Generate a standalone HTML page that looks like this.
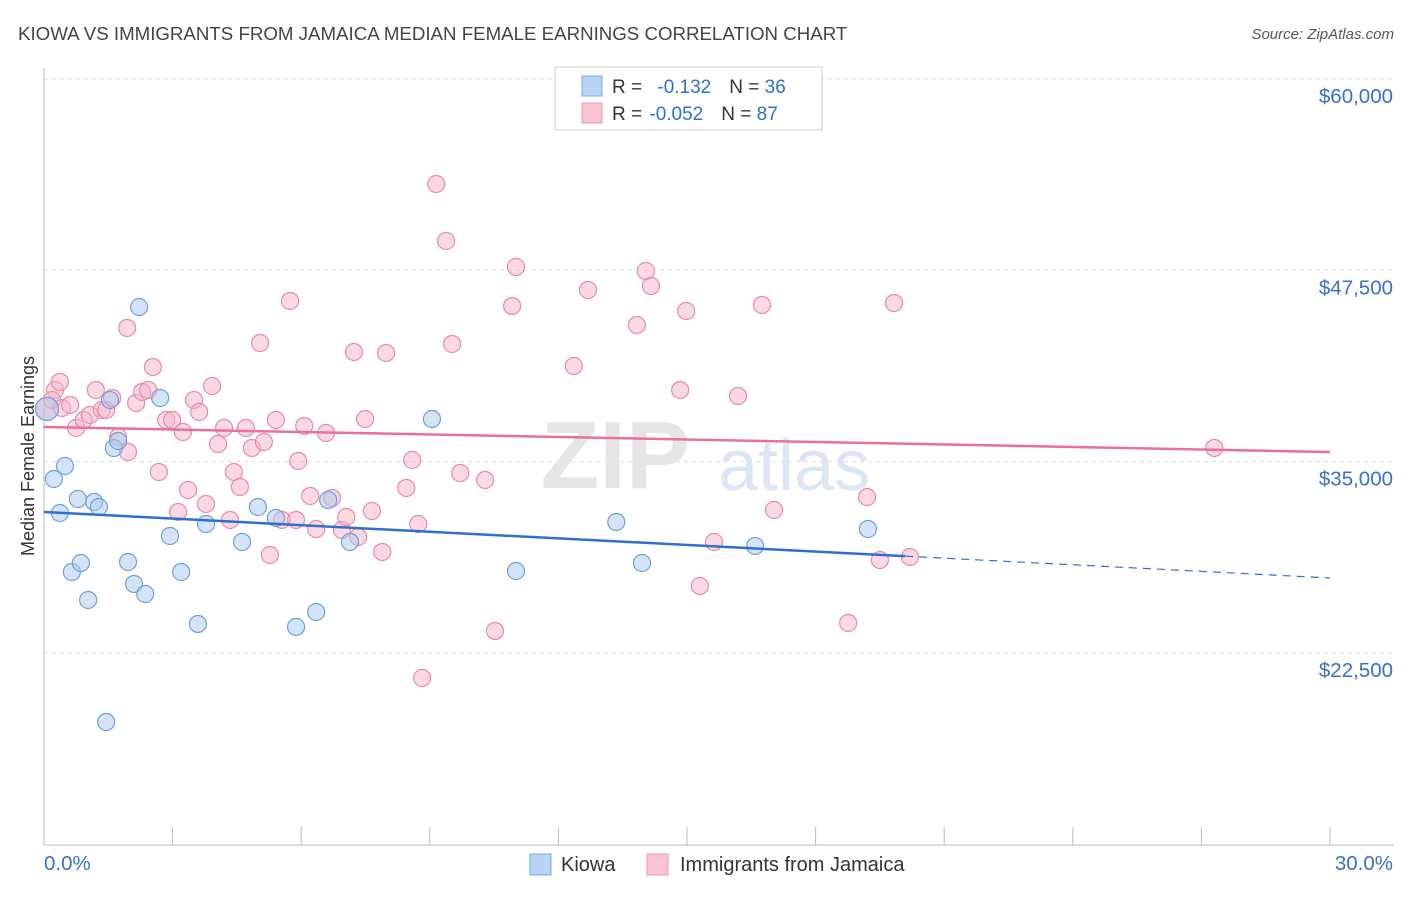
<!DOCTYPE html>
<html><head><meta charset="utf-8"><style>
body{margin:0;background:#fff;font-family:"Liberation Sans",sans-serif}
svg text{font-family:"Liberation Sans",sans-serif}
</style></head><body>
<svg id="chart" width="1406" height="892">
<text x="18" y="40" font-size="18.7" fill="#444">KIOWA VS IMMIGRANTS FROM JAMAICA MEDIAN FEMALE EARNINGS CORRELATION CHART</text>
<text x="1394" y="39" font-size="15" fill="#555" text-anchor="end" font-style="italic">Source: ZipAtlas.com</text>
<g id="grid"></g>
<text x="690" y="488" font-size="96" fill="#e6e6e6" font-family="Liberation Serif" text-anchor="end" font-weight="bold">ZIP</text>
<text x="718" y="490" font-size="72" fill="#dbe6f5">atlas</text>
<g id="axes"></g>
<g id="points"></g>
<g id="trends"></g>
<text transform="translate(34,456) rotate(-90)" font-size="18" fill="#333" text-anchor="middle">Median Female Earnings</text>
<g>
<rect x="555" y="67" width="267" height="63" fill="#fff" stroke="#ccc"/>
<rect x="582" y="76" width="20" height="20" fill="#b8d3f4" stroke="#7aa9e0"/>
<rect x="582" y="103" width="20" height="20" fill="#f9c3d4" stroke="#ec9ab6"/>
<text x="612" y="93" font-size="19" fill="#333">R = <tspan fill="#2f6fd0" dx="10">-0.132</tspan><tspan fill="#333" dx="18">N = </tspan><tspan fill="#2f6fd0">36</tspan></text>
<text x="612" y="120" font-size="19" fill="#333">R = <tspan fill="#2f6fd0" dx="2">-0.052</tspan><tspan fill="#333" dx="18">N = </tspan><tspan fill="#2f6fd0">87</tspan></text>
</g>
<g>
<rect x="530" y="854" width="21" height="21" fill="#b8d3f4" stroke="#7aa9e0"/>
<text x="561" y="871" font-size="20" fill="#333">Kiowa</text>
<rect x="647" y="854" width="21" height="21" fill="#f9c3d4" stroke="#ec9ab6"/>
<text x="680" y="871" font-size="20" fill="#333">Immigrants from Jamaica</text>
</g>
</svg>
<script>
const yTicks=[22500,35000,47500,60000];
const yTickLabels=["$22,500","$35,000","$47,500","$60,000"];
const xTickLabels=["0.0%","30.0%"];
const kiowaX=[0.07,0.23,0.37,0.49,0.65,0.79,0.86,1.03,1.17,1.28,1.45,1.54,1.63,1.73,1.96,2.10,2.22,2.36,2.71,2.94,3.20,3.59,3.78,4.62,4.99,5.41,5.88,6.35,6.63,7.14,9.05,11.01,13.35,13.95,16.59,19.22];
const kiowaY=[38440,33864,31642,34713,27787,32557,28375,25957,32361,32034,17986,39026,35889,36347,28441,27003,45102,26350,39157,30140,27787,24390,30924,29748,32034,31315,24194,25174,32492,29748,37784,27853,31054,28375,29487,30597];
const jamX=[0.07,0.26,0.37,0.19,0.42,0.61,0.75,0.93,1.07,1.21,1.35,1.45,1.59,1.73,1.96,1.94,2.15,2.29,2.43,2.54,2.68,2.85,2.99,3.13,3.24,3.36,3.50,3.62,3.78,3.92,4.06,4.20,4.34,4.43,4.57,4.71,4.85,5.04,5.13,5.27,5.41,5.55,5.74,5.88,5.93,6.07,6.21,6.35,6.58,6.72,6.95,7.05,7.23,7.33,7.49,7.65,7.89,7.98,8.45,8.59,8.73,8.82,9.15,9.38,9.52,9.71,10.29,10.52,10.92,11.01,12.36,12.69,13.83,14.04,14.16,14.84,14.98,15.30,15.63,16.19,16.75,17.03,18.76,19.20,19.50,19.83,20.20,27.30];
const jamY=[38440,39679,40202,39026,38503,38699,37196,37719,38046,39679,38372,38372,39157,36608,35628,43730,38830,39549,39679,41182,34321,37719,37719,31707,36935,33145,39026,38242,32231,39941,36151,37196,31185,34321,33341,37196,35889,42750,36282,28898,37719,31185,45495,31185,35040,37327,32753,30597,36870,32622,30532,31381,42162,30074,37784,31773,29095,42097,33276,35105,30924,20861,53139,49415,42685,34256,33799,23933,45168,47716,41247,46213,43926,47454,46475,39679,44841,26873,29748,39287,45233,31838,24455,32688,28571,45364,28767,35889];
const kiowaTrend=[31708,27396];
const jamTrend=[37262,35628];
const kiowaSolidEnd=20.09;

const NS="http://www.w3.org/2000/svg";
const X=v=>44+v/30*1286;
const Y=v=>79+(60000-v)/12500*191.3;
function mk(tag,attrs,parent){const e=document.createElementNS(NS,tag);for(const k in attrs)e.setAttribute(k,attrs[k]);parent.appendChild(e);return e;}
const grid=document.getElementById('grid'),axes=document.getElementById('axes'),pts=document.getElementById('points'),tr=document.getElementById('trends');
yTicks.forEach((t,i)=>{
  const l=mk('line',{x1:44,x2:1394,y1:Y(t),y2:Y(t),stroke:'#ddd','stroke-dasharray':'4,4'},grid);
  
  
  const tx=mk('text',{x:1393,y:Y(t)+24,'font-size':20.5,fill:'#3a6fd0','text-anchor':'end'},axes);
  tx.textContent=yTickLabels[i];
  
  
});
mk('line',{x1:44,x2:44,y1:68,y2:845,stroke:'#bbb'},axes);
mk('line',{x1:44,x2:1394,y1:845,y2:845,stroke:'#bbb'},axes);
for(let i=0;i<=10;i++){const tk=mk('line',{x1:X(i*3),x2:X(i*3),y1:827,y2:845,stroke:'#bbb'},axes);
  
  }
const xl0=mk('text',{x:44,y:870,'font-size':20.5,fill:'#3a6fd0'},axes);xl0.textContent=xTickLabels[0];


const xl1=mk('text',{x:1393,y:870,'font-size':20.5,fill:'#3a6fd0','text-anchor':'end'},axes);xl1.textContent=xTickLabels[1];


function dots(xs,ys,fill,stroke,name){xs.forEach((x,i)=>{
  const c=mk('circle',{cx:X(x),cy:Y(ys[i]),r:(i===0?11.5:8.5),fill:fill,'fill-opacity':0.5,stroke:stroke,'stroke-width':1.2},pts);
  
  
});}
dots(jamX,jamY,'#f6b3c8','#e88aab','jamaica-point');
dots(kiowaX,kiowaY,'#a9c9f0','#6fa0dc','kiowa-point');
const lin=(a,x)=>a[0]+(a[1]-a[0])*x/30;
const pl=mk('line',{x1:X(0),y1:Y(jamTrend[0]),x2:X(30),y2:Y(jamTrend[1]),stroke:'#e8709a','stroke-width':2.5},tr);


const bl=mk('line',{x1:X(0),y1:Y(kiowaTrend[0]),x2:X(kiowaSolidEnd),y2:Y(lin(kiowaTrend,kiowaSolidEnd)),stroke:'#2f6fd0','stroke-width':2.5},tr);


const bd=mk('line',{x1:X(kiowaSolidEnd),y1:Y(lin(kiowaTrend,kiowaSolidEnd)),x2:X(30),y2:Y(kiowaTrend[1]),stroke:'#2f6fd0','stroke-width':1.2,'stroke-dasharray':'8,6'},tr);


</script>
</body></html>
